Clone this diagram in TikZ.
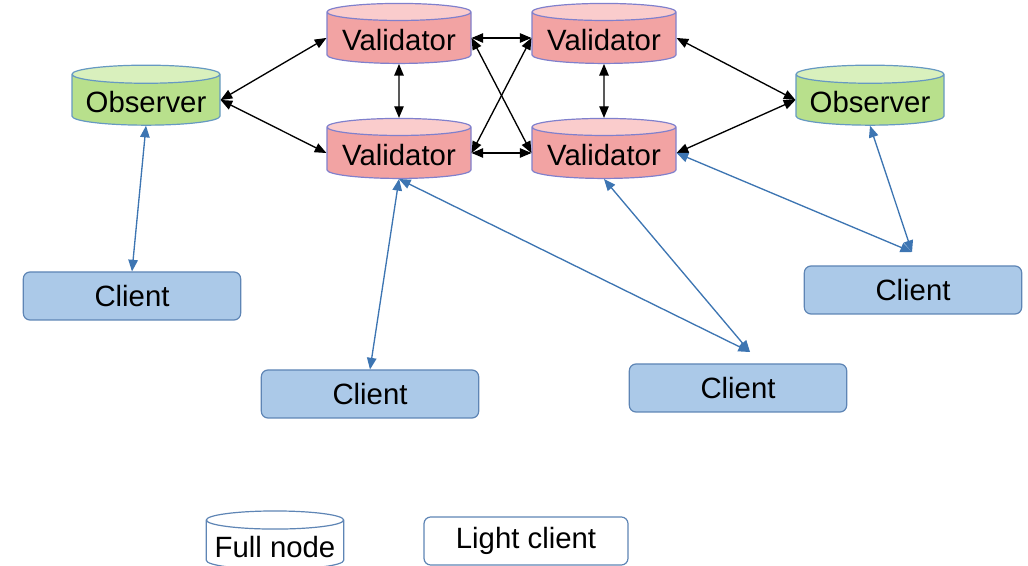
\documentclass[tikz,border=0pt]{standalone}
\usepackage{fontspec}
\setmainfont{Liberation Sans}
\usetikzlibrary{arrows,shapes.geometric}
\definecolor{valred}{rgb}{0.95,0.64,0.64}
\definecolor{valtop}{rgb}{0.98,0.80,0.80}
\definecolor{valedge}{rgb}{0.50,0.50,0.80}
\definecolor{obsgreen}{rgb}{0.72,0.88,0.55}
\definecolor{obstop}{rgb}{0.85,0.94,0.74}
\definecolor{obsedge}{rgb}{0.40,0.60,0.76}
\definecolor{clblue}{rgb}{0.67,0.79,0.91}
\definecolor{cledge}{rgb}{0.37,0.52,0.71}
\definecolor{linkblue}{rgb}{0.24,0.46,0.70}

\begin{document}
\begin{tikzpicture}[x=0.75pt,y=-0.75pt,line cap=round,line join=round,>=triangle 45,
fullnode/.style={cylinder,shape border rotate=90,aspect=0.15,draw,line width=0.9pt,
  cylinder uses custom fill,inner sep=0pt,minimum width=108pt,minimum height=45pt,
  text height=21pt,text depth=2pt,
  font=\fontsize{22}{26}\selectfont},
validator/.style={fullnode,draw=valedge,cylinder body fill=valred,cylinder end fill=valtop},
observer/.style={fullnode,draw=obsedge,cylinder body fill=obsgreen,cylinder end fill=obstop,minimum width=111pt},
client/.style={rectangle,rounded corners=5pt,draw=cledge,fill=clblue,line width=0.9pt,
  minimum width=163pt,minimum height=36pt,font=\fontsize{22}{26}\selectfont},
peer/.style={<->,black,line width=1pt},
link/.style={<->,linkblue,line width=1pt}]
\useasboundingbox (0,0) rectangle (1028,566);
% full nodes
\node[validator] (vtl) at (399,38) {Validator};
\node[validator] (vtr) at (604,38) {Validator};
\node[validator] (vbl) at (399,153) {Validator};
\node[validator] (vbr) at (604,153) {Validator};
\node[observer] (obsl) at (146,100) {Observer};
\node[observer] (obsr) at (870,100) {Observer};
% light clients
\node[client] (cl) at (132,296) {Client};
\node[client] (cm) at (370,394) {Client};
\node[client] (cmr) at (738,388) {Client};
\node[client] (cr) at (913,290) {Client};
\coordinate (cmrtop) at (750,352);
\coordinate (crtop) at (912,252);
% validator links
\draw[peer] (obsl.east) -- (vtl.west);
\draw[peer] (obsl.east) -- (vbl.west);
\draw[peer] (vtl.east) -- (vtr.west);
\draw[peer] (vbl.east) -- (vbr.west);
\draw[peer] (vtl.south) -- (vbl.north);
\draw[peer] (vtr.south) -- (vbr.north);
\draw[peer] (vtl.east) -- (vbr.west);
\draw[peer] (vtr.west) -- (vbl.east);
\draw[peer] (obsr.west) -- (vtr.east);
\draw[peer] (obsr.west) -- (vbr.east);
% client links
\draw[link] (obsl.south) -- (cl.north);
\draw[link] (vbl.south) -- (cm.north);
\draw[link] (vbl.south) -- (cmrtop);
\draw[link] (vbr.south) -- (cmrtop);
\draw[link] (vbr.east) -- (crtop);
\draw[link] (obsr.south) -- (crtop);
% legend
\node[fullnode,draw=cledge,cylinder body fill=white,cylinder end fill=white,minimum width=103pt,minimum height=42pt] (lfull) at (275,545) {Full node};
\node[client,fill=white,minimum width=153pt] (llight) at (526,541) {Light client};
\end{tikzpicture}
\end{document}
